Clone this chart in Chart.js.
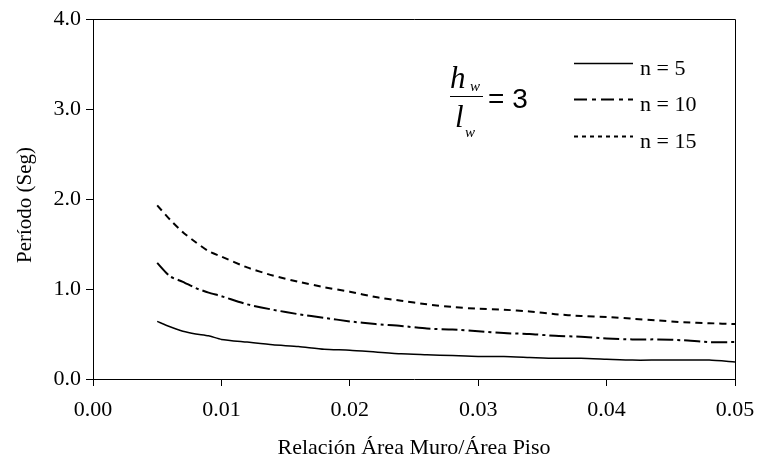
<!DOCTYPE html>
<html>
<head>
<meta charset="utf-8">
<script src="https://cdn.jsdelivr.net/npm/chart.js@4"></script>
<style>
  html, body { margin: 0; padding: 0; background: #fff; }
  #wrap { width: 761px; height: 466px; }
</style>
</head>
<body>
<div id="wrap"><canvas id="myChart" width="761" height="466"></canvas></div>
<script>
const relacion = [0.005, 0.006, 0.007, 0.008, 0.009, 0.010, 0.012, 0.014, 0.016, 0.018, 0.020, 0.022, 0.024,
  0.026, 0.028, 0.030, 0.032, 0.034, 0.036, 0.038, 0.040, 0.042, 0.044, 0.046, 0.048, 0.050];
const periodoN5 = [0.64, 0.58, 0.53, 0.50, 0.48, 0.44, 0.41, 0.38, 0.36, 0.33, 0.32, 0.30, 0.28,
  0.27, 0.26, 0.25, 0.25, 0.24, 0.23, 0.23, 0.22, 0.21, 0.21, 0.21, 0.21, 0.19];
const periodoN10 = [1.29, 1.14, 1.08, 1.01, 0.96, 0.92, 0.83, 0.77, 0.72, 0.68, 0.64, 0.61, 0.59,
  0.56, 0.55, 0.53, 0.51, 0.50, 0.48, 0.47, 0.45, 0.44, 0.44, 0.43, 0.41, 0.41];
const periodoN15 = [1.93, 1.77, 1.63, 1.52, 1.42, 1.36, 1.24, 1.15, 1.08, 1.02, 0.97, 0.91, 0.87,
  0.83, 0.80, 0.78, 0.77, 0.75, 0.72, 0.70, 0.69, 0.67, 0.65, 0.63, 0.62, 0.61];
const etiquetas = ['n = 5', 'n = 10', 'n = 15'];
const tiposLinea = [[], [16, 4, 3, 4], [7, 5]];
const tiposLeyenda = [[], [13, 5, 4, 5], [4, 4]];

const serif = '"Liberation Serif", "Times New Roman", serif';
const ctx = document.getElementById('myChart');

function puntos(valores) {
  return relacion.map((x, i) => ({ x: x, y: valores[i] }));
}

// marco, leyenda, formula y titulos de ejes
const extras = {
  id: 'extras',
  afterDraw(chart) {
    const c = chart.ctx;
    const a = chart.chartArea;
    c.save();
    c.strokeStyle = '#000';
    c.lineWidth = 1;
    c.beginPath();
    c.moveTo(a.left, a.top + 0.5);
    c.lineTo(a.right + 0.5, a.top + 0.5);
    c.lineTo(a.right + 0.5, a.bottom);
    c.stroke();

    // leyenda
    const ly = [63.5, 99.5, 136.5];
    c.fillStyle = '#000';
    c.font = '22px ' + serif;
    c.textBaseline = 'alphabetic';
    c.textAlign = 'left';
    etiquetas.forEach((t, i) => {
      c.beginPath();
      c.setLineDash(tiposLeyenda[i]);
      c.lineWidth = i === 0 ? 1.5 : 2;
      c.moveTo(574, ly[i]);
      c.lineTo(633, ly[i]);
      c.stroke();
      c.setLineDash([]);
      c.fillText(t, 640, ly[i] + 11.5);
    });

    // formula hw / lw = 3
    c.font = 'italic 31px ' + serif;
    c.fillText('h', 450, 88);
    c.fillText('l', 455, 127);
    c.font = 'italic 15px ' + serif;
    c.fillText('w', 470, 91);
    c.fillText('w', 465, 137);
    c.lineWidth = 1;
    c.beginPath();
    c.moveTo(450, 96.5);
    c.lineTo(483, 96.5);
    c.stroke();
    c.font = '28px "Liberation Sans", Arial, sans-serif';
    c.fillText('= 3', 488, 108);

    // titulos
    c.textAlign = 'center';
    c.textBaseline = 'middle';
    c.font = '22px ' + serif;
    c.fillText('Relación Área Muro/Área Piso', (a.left + a.right) / 2, 448);
    c.font = '21px ' + serif;
    c.translate(25, 205);
    c.rotate(-Math.PI / 2);
    c.fillText('Período (Seg)', 0, 0);
    c.restore();
  }
};

new Chart(ctx, {
  type: 'line',
  data: {
    datasets: [
      { label: etiquetas[0], data: puntos(periodoN5), borderDash: tiposLinea[0], borderWidth: 1.5 },
      { label: etiquetas[1], data: puntos(periodoN10), borderDash: tiposLinea[1], borderWidth: 2 },
      { label: etiquetas[2], data: puntos(periodoN15), borderDash: tiposLinea[2], borderWidth: 2 }
    ].map(d => Object.assign(d, { borderColor: '#000', backgroundColor: '#000', pointRadius: 0, tension: 0.2, fill: false }))
  },
  options: {
    responsive: false,
    animation: false,
    layout: { padding: { left: 0, right: 26, top: 19, bottom: 0 } },
    plugins: { legend: { display: false }, tooltip: { enabled: false } },
    scales: {
      x: {
        type: 'linear',
        min: 0,
        max: 0.05,
        afterFit: s => { s.height = 87; s.paddingRight = 0; s.paddingLeft = 0; },
        ticks: { stepSize: 0.01, padding: 11, color: '#000', font: { family: serif, size: 22 },
          callback: v => v.toFixed(2) },
        grid: { drawOnChartArea: false, tickLength: 7, color: '#000' },
        border: { color: '#000' }
      },
      y: {
        min: 0,
        max: 4,
        afterFit: s => { s.width = 93; s.paddingTop = 0; s.paddingBottom = 0; },
        ticks: { stepSize: 1, padding: 5, color: '#000', font: { family: serif, size: 22 },
          callback: v => v.toFixed(1) },
        grid: { drawOnChartArea: false, tickLength: 7, color: '#000' },
        border: { color: '#000' }
      }
    }
  },
  plugins: [extras]
});
</script>
</body>
</html>
